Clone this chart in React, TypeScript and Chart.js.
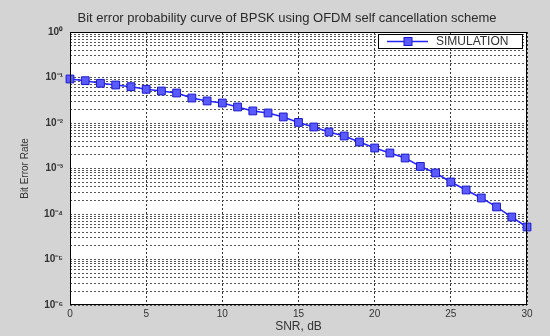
import { useEffect, useRef } from "react";
import { Chart, registerables } from "chart.js";

Chart.register(...registerables);

const snrDb = [0, 1, 2, 3, 4, 5, 6, 7, 8, 9, 10, 11, 12, 13, 14, 15, 16, 17, 18, 19, 20, 21, 22, 23, 24, 25, 26, 27, 28, 29, 30];
const berSimulation = [
  0.0927, 0.0851, 0.0746, 0.0684, 0.0628, 0.055, 0.0505, 0.0456, 0.0354, 0.0305,
  0.0275, 0.0225, 0.0184, 0.0166, 0.0136, 0.0103, 0.00817, 0.00634, 0.00518, 0.00382,
  0.00282, 0.00219, 0.0017, 0.00111, 0.000797, 0.000505, 0.000337, 0.000225, 0.000143, 0.0000859,
  0.0000518,
];
const xTickValues = [0, 5, 10, 15, 20, 25, 30];
const yDecadeValues = [1, 1e-1, 1e-2, 1e-3, 1e-4, 1e-5, 1e-6];
const yDecadeLabels = ["10⁰", "10⁻¹", "10⁻²", "10⁻³", "10⁻⁴", "10⁻⁵", "10⁻⁶"];
const titleText = "Bit error probability curve of BPSK using OFDM self cancellation scheme";
const seriesLabel = "SIMULATION";
const xTitle = "SNR, dB";
const yTitle = "Bit Error Rate";

const FONT = "'Liberation Sans', Arial, sans-serif";
const LINE_COLOR = "#2424ff";
const MARKER_FILL = "#5a5aff";
const MARKER_EDGE = "#1a1acc";

const plotBgPlugin = {
  id: "plotBg",
  beforeDraw(chart: any) {
    const { ctx, chartArea: a } = chart;
    ctx.save();
    ctx.fillStyle = "#ffffff";
    ctx.fillRect(a.left, a.top, a.right - a.left, a.bottom - a.top);
    ctx.restore();
  },
};

const frameTitleLegendPlugin = {
  id: "frameTitleLegend",
  afterDraw(chart: any) {
    const { ctx, chartArea: a } = chart;
    ctx.save();
    ctx.strokeStyle = "#000";
    ctx.lineWidth = 1;
    ctx.strokeRect(Math.round(a.left) + 0.5, Math.round(a.top) + 0.5, Math.round(a.right - a.left) - 1, Math.round(a.bottom - a.top) - 1);
    // title
    ctx.fillStyle = "#2a2a2a";
    ctx.font = `13px ${FONT}`;
    ctx.textAlign = "center";
    ctx.textBaseline = "middle";
    ctx.fillText(titleText, 287, 18);
    // legend
    const lx = 378, ly = 34, lw = 145, lh = 15;
    ctx.fillStyle = "#fff";
    ctx.fillRect(lx, ly, lw, lh);
    ctx.strokeStyle = "#000";
    ctx.strokeRect(lx + 0.5, ly + 0.5, lw - 1, lh - 1);
    const cy = ly + lh / 2;
    ctx.strokeStyle = LINE_COLOR;
    ctx.lineWidth = 1.5;
    ctx.beginPath();
    ctx.moveTo(387, cy);
    ctx.lineTo(428, cy);
    ctx.stroke();
    ctx.fillStyle = MARKER_FILL;
    ctx.strokeStyle = MARKER_EDGE;
    ctx.lineWidth = 1;
    ctx.fillRect(404, cy - 4, 8, 8);
    ctx.strokeRect(404, cy - 4, 8, 8);
    ctx.fillStyle = "#333";
    ctx.font = `12px ${FONT}`;
    ctx.textAlign = "left";
    ctx.fillText(seriesLabel, 436, cy + 0.5);
    ctx.restore();
  },
};

export default function App() {
  const canvasRef = useRef<HTMLCanvasElement | null>(null);

  useEffect(() => {
    if (!canvasRef.current) return;
    const minorTicks: number[] = [];
    for (let d = yDecadeValues.length - 1; d >= 1; d--) {
      const base = yDecadeValues[d];
      for (let m = 1; m <= 9; m++) minorTicks.push(parseFloat((m * base).toPrecision(3)));
    }
    minorTicks.push(yDecadeValues[0]);

    const chart = new Chart(canvasRef.current, {
      type: "line",
      data: {
        datasets: [
          {
            label: seriesLabel,
            data: snrDb.map((x, i) => ({ x, y: berSimulation[i] })),
            borderColor: LINE_COLOR,
            borderWidth: 1.5,
            pointStyle: "rect",
            pointRadius: 5.5,
            pointBackgroundColor: MARKER_FILL,
            pointBorderColor: MARKER_EDGE,
            pointBorderWidth: 1,
            tension: 0,
            clip: false as any,
          },
        ],
      },
      options: {
        animation: false,
        responsive: false,
        devicePixelRatio: 1,
        layout: { padding: { top: 32, right: 23, left: 0, bottom: 0 } },
        plugins: {
          legend: { display: false },
          title: { display: false },
          tooltip: { enabled: false },
        },
        scales: {
          x: {
            type: "linear",
            min: 0,
            max: 30,
            afterBuildTicks: (scale: any) => {
              scale.ticks = xTickValues.map((v) => ({ value: v }));
            },
            afterFit: (scale: any) => {
              scale.height = 31;
            },
            grid: { color: "#333", drawTicks: false, lineWidth: 1 },
            border: { display: false, dash: [2, 2] },
            ticks: { color: "#333", font: { family: FONT, size: 10 }, padding: 3, maxRotation: 0 },
            title: { display: true, text: xTitle, color: "#333", font: { family: FONT, size: 12 }, padding: { top: 0, bottom: 2 } },
          },
          y: {
            type: "logarithmic",
            min: 1e-6,
            max: 1,
            afterBuildTicks: (scale: any) => {
              scale.ticks = minorTicks.map((v) => ({ value: v, major: yDecadeValues.includes(v) }));
            },
            afterFit: (scale: any) => {
              scale.width = 70;
            },
            grid: { color: "#555", drawTicks: false, lineWidth: 1 },
            border: { display: false, dash: [2, 2] },
            ticks: {
              autoSkip: false,
              color: "#333",
              font: { family: FONT, size: 10, weight: "bold" },
              padding: 7,
              callback: (value: any) => {
                const v = Number(value);
                const idx = yDecadeValues.findIndex((d) => Math.abs(Math.log10(d) - Math.log10(v)) < 1e-6);
                return idx >= 0 ? yDecadeLabels[idx] : "";
              },
            },
            title: { display: true, text: yTitle, color: "#333", font: { family: FONT, size: 10 }, padding: { top: 19, bottom: 0 } },
          },
        },
      },
      plugins: [plotBgPlugin, frameTitleLegendPlugin],
    });
    return () => chart.destroy();
  }, []);

  return (
    <div style={{ position: "fixed", left: 0, top: 0, width: 550, height: 336, background: "#d4d4d4" }}>
      <canvas ref={canvasRef} width={550} height={336} style={{ display: "block", width: 550, height: 336 }} />
    </div>
  );
}
